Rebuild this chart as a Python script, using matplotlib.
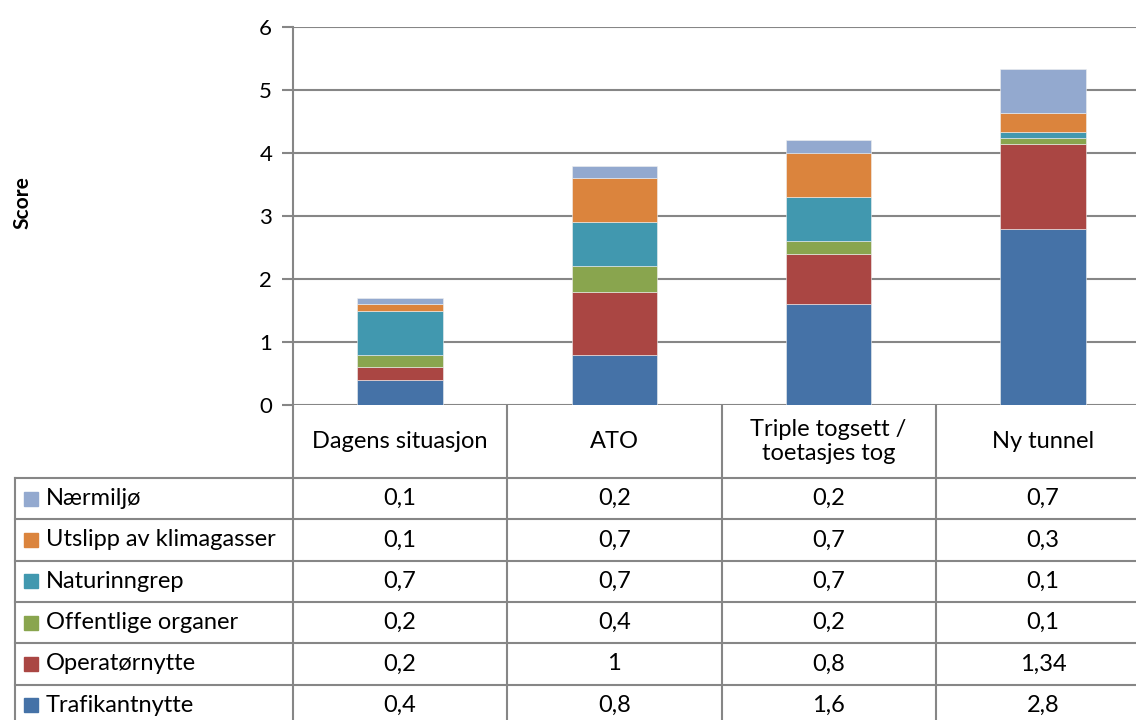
import matplotlib.pyplot as plt
import numpy as np

plt.rcParams['font.family'] = ['Lato', 'DejaVu Sans']

# Data
categories = ['Dagens situasjon', 'ATO', 'Triple togsett /\ntoetasjes tog', 'Ny tunnel']
series = ['Trafikantnytte', 'Operatørnytte', 'Offentlige organer',
          'Naturinngrep', 'Utslipp av klimagasser', 'Nærmiljø']
trafikantnytte = [0.4, 0.8, 1.6, 2.8]
operatornytte = [0.2, 1.0, 0.8, 1.34]
offentlige = [0.2, 0.4, 0.2, 0.1]
naturinngrep = [0.7, 0.7, 0.7, 0.1]
utslipp = [0.1, 0.7, 0.7, 0.3]
naermiljo = [0.1, 0.2, 0.2, 0.7]
values = [trafikantnytte, operatornytte, offentlige, naturinngrep, utslipp, naermiljo]
colors = ['#4572A7', '#AA4643', '#89A54E', '#4198AF', '#DB843D', '#93A9CF']

W, H = 1136, 720
fig = plt.figure(figsize=(W / 100, H / 100), dpi=100)

# chart area in pixels (right edge runs past the image, as in the original crop)
x0, x1 = 293, 1150
ytop, ybot = 27, 405
ax = fig.add_axes([x0 / W, 1 - ybot / H, (x1 - x0) / W, (ybot - ytop) / H])

x = np.arange(len(categories))
bottom = np.zeros(len(categories))
for vals, col in zip(values, colors):
    ax.bar(x, vals, bottom=bottom, width=0.40, color=col,
           edgecolor='#f0f0f0', linewidth=0.4, zorder=3)
    bottom += np.array(vals)

ax.set_xlim(-0.5, len(categories) - 0.5)
ax.set_ylim(0, 6)
ax.set_yticks(range(0, 7))
ax.yaxis.grid(True, color='#868686', linewidth=1.5, zorder=0)
ax.set_xticks([])
for s in ['top', 'right', 'bottom']:
    ax.spines[s].set_visible(False)
ax.spines['left'].set_color('#868686')
ax.spines['left'].set_linewidth(1.5)
ax.tick_params(axis='y', length=8, width=1.5, color='#868686',
               labelsize=16, pad=7)
fig.text(22 / W, 1 - 203 / H, 'Score', rotation=90, fontsize=15,
         fontweight='bold', ha='center', va='center')

# data table drawn in pixel coordinates
tab = fig.add_axes([0, 0, 1, 1], zorder=-1)
tab.set_xlim(0, W)
tab.set_ylim(H, 0)
tab.axis('off')
lc = '#868686'
lw = 1.5
fs = 17
col_w = (x1 - x0) / len(categories)
col_edges = [x0 + i * col_w for i in range(len(categories) + 1)]
header_bot = 478
row_h = 41.3
n_rows = len(series)
table_bot = header_bot + n_rows * row_h
left = 15

# vertical lines
for xe in col_edges:
    tab.plot([xe, xe], [ybot, table_bot], color=lc, lw=lw)
tab.plot([left, left], [header_bot, table_bot], color=lc, lw=lw)
# horizontal lines
for r in range(n_rows + 1):
    yy = header_bot + r * row_h
    tab.plot([left, x1], [yy, yy], color=lc, lw=lw)

# header texts
for i, cat in enumerate(categories):
    cx = x0 + (i + 0.5) * col_w
    tab.text(cx, (ybot + header_bot) / 2, cat, ha='center', va='center',
             fontsize=fs, linespacing=1.15)

# rows (top to bottom: reverse series order)
for r, idx in enumerate(reversed(range(n_rows))):
    cy = header_bot + (r + 0.5) * row_h
    tab.add_patch(plt.Rectangle((24, cy - 7), 14, 14, color=colors[idx]))
    tab.text(46, cy, series[idx], ha='left', va='center', fontsize=fs)
    for i in range(len(categories)):
        cx = x0 + (i + 0.5) * col_w
        v = values[idx][i]
        label = ('%g' % v).replace('.', ',')
        tab.text(cx, cy, label, ha='center', va='center', fontsize=fs)

fig.savefig('out.png', dpi=100)
